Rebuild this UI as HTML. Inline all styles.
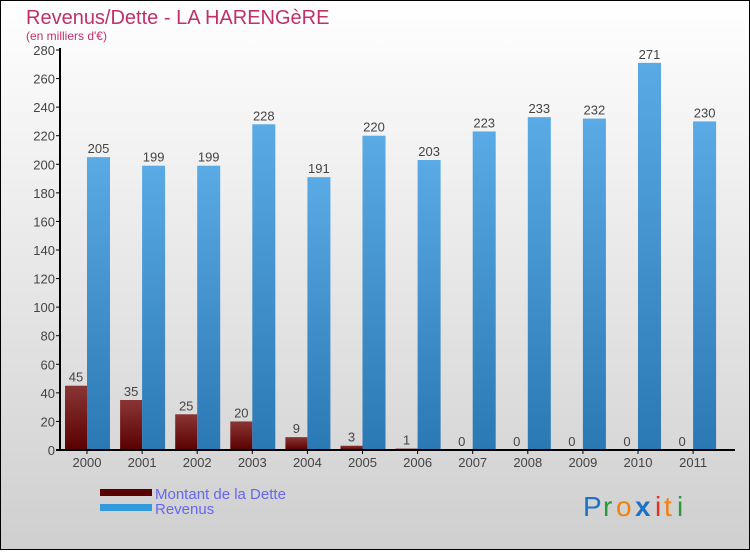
<!DOCTYPE html>
<html><head><meta charset="utf-8"><style>
body{margin:0}
svg text{font-family:"Liberation Sans",sans-serif}
</style></head><body>
<svg width="750" height="550" xmlns="http://www.w3.org/2000/svg">
<defs>
<linearGradient id="bg" x1="0" y1="0" x2="0" y2="1"><stop offset="0" stop-color="#ffffff"/><stop offset="1" stop-color="#cfcfcf"/></linearGradient>
<linearGradient id="dg" x1="0" y1="0" x2="0" y2="1"><stop offset="0" stop-color="#8a3535"/><stop offset="1" stop-color="#5a0000"/></linearGradient>
<linearGradient id="rg" x1="0" y1="0" x2="0" y2="1"><stop offset="0" stop-color="#5aaae6"/><stop offset="1" stop-color="#2a78b4"/></linearGradient>
</defs>
<rect x="0.5" y="0.5" width="749" height="549" fill="url(#bg)" stroke="#000"/>
<text x="26" y="24" font-size="20" fill="#c0306a">Revenus/Dette - LA HARENGèRE</text>
<text x="26" y="40" font-size="12" fill="#c0306a">(en milliers d'€)</text>
<g id="plot"></g>
<rect x="100" y="489" width="52" height="7" fill="#5a0000"/>
<text x="155" y="499" font-size="15" fill="#6666ee">Montant de la Dette</text>
<rect x="100" y="504" width="52" height="7" fill="#3399dd"/>
<text x="155" y="514" font-size="15" fill="#6666ee">Revenus</text>
<g font-size="28">
<text x="583" y="516" fill="#1a73c8">P</text><text x="603" y="516" fill="#2a9a3a">r</text><text x="616" y="516" fill="#f08010">o</text><text x="635" y="516" fill="#1a73c8" font-weight="bold">x</text><text x="655" y="516" fill="#e03020">i</text><text x="664" y="516" fill="#f08010">t</text><text x="677" y="516" fill="#2a9a3a">i</text>
</g>
</svg>
<script>
const years=["2000","2001","2002","2003","2004","2005","2006","2007","2008","2009","2010","2011"];
const dette=[45,35,25,20,9,3,1,0,0,0,0,0];
const revenus=[205,199,199,228,191,220,203,223,233,232,271,230];
const yTicks=[0,20,40,60,80,100,120,140,160,180,200,220,240,260,280];
const NS="http://www.w3.org/2000/svg";
const g=document.getElementById('plot');
const y=v=>450-v*400/280;
const x=i=>87+i*55.1;
function mk(t,a){const e=document.createElementNS(NS,t);for(const k in a)e.setAttribute(k,a[k]);g.appendChild(e);return e;}
for(const t of yTicks){
 const tk=mk('line',{x1:56,x2:60,y1:y(t),y2:y(t),stroke:'#000'});
 
 
 const tx=mk('text',{x:55,y:y(t)+5,'text-anchor':'end','font-size':13,fill:'#444'});tx.textContent=t;
 
 
}
years.forEach((yr,i)=>{
 const cx=x(i);
 const d=mk('rect',{x:cx-22,y:y(dette[i]),width:22,height:450-y(dette[i]),fill:'url(#dg)'});
 
 
 const r=mk('rect',{x:cx,y:y(revenus[i]),width:23,height:450-y(revenus[i]),fill:'url(#rg)'});
 
 
 const dl=mk('text',{x:cx-11,y:y(dette[i])-4,'text-anchor':'middle','font-size':13,fill:'#444'});dl.textContent=dette[i];
 
 
 const rl=mk('text',{x:cx+11.5,y:y(revenus[i])-4,'text-anchor':'middle','font-size':13,fill:'#444'});rl.textContent=revenus[i];
 
 
 mk('line',{x1:cx,x2:cx,y1:450,y2:454,stroke:'#000'});
 const xl=mk('text',{x:cx,y:467,'text-anchor':'middle','font-size':13,fill:'#444'});xl.textContent=yr;
 
 
});
const ax=mk('line',{x1:60,x2:60,y1:48,y2:450,stroke:'#000','stroke-width':2});


const bx=mk('line',{x1:56,x2:735,y1:450,y2:450,stroke:'#000','stroke-width':2});


</script>
</body></html>
